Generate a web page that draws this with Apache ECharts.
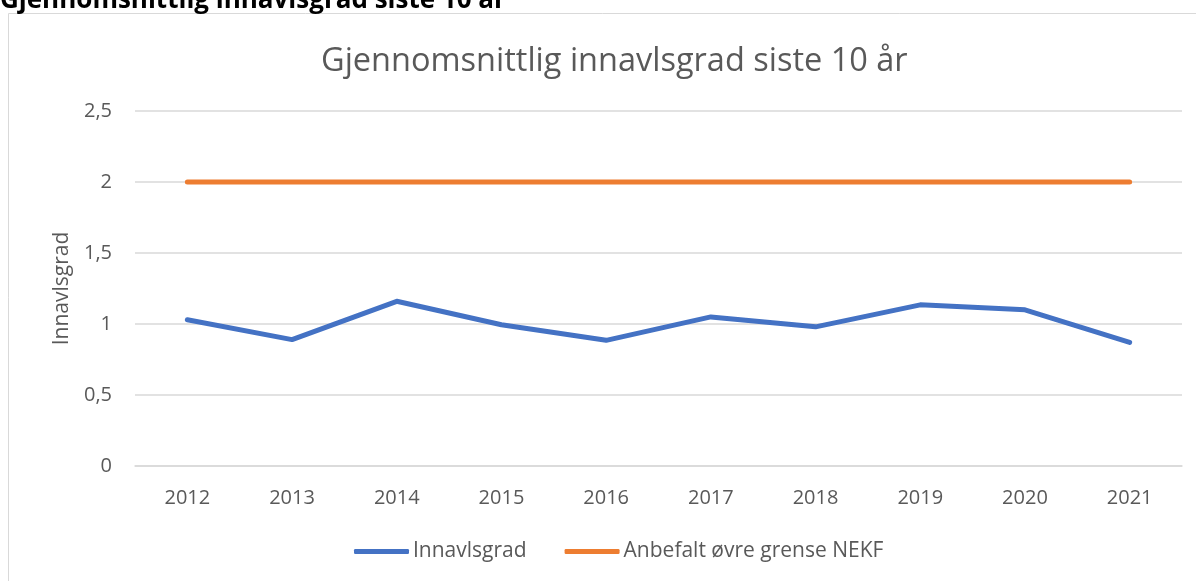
<!DOCTYPE html>
<html>
<head>
<meta charset="utf-8">
<script src="https://cdn.jsdelivr.net/npm/echarts@6/dist/echarts.min.js"></script>
<style>
  html, body { margin: 0; padding: 0; background: #fff; }
  #chart { width: 1196px; height: 581px; }
</style>
</head>
<body>
<div id="chart"></div>
<script>
const years = ['2012', '2013', '2014', '2015', '2016', '2017', '2018', '2019', '2020', '2021']
const innavlsgrad = [1.03, 0.89, 1.16, 0.995, 0.885, 1.05, 0.98, 1.135, 1.10, 0.87]
const grense = [2, 2, 2, 2, 2, 2, 2, 2, 2, 2]

const textColor = '#595959'
const font = '"Open Sans", "Noto Sans", sans-serif'

const chart = echarts.init(document.getElementById('chart'))
chart.setOption({
  animation: false,
  textStyle: { fontFamily: font },
  title: {
    text: 'Gjennomsnittlig innavlsgrad siste 10 år',
    left: 316,
    top: 40,
    textStyle: { color: textColor, fontSize: 32.5, fontWeight: 'normal', fontFamily: font }
  },
  graphic: [
    {
      type: 'rect',
      shape: { x: 8.5, y: 13.5, width: 1300, height: 700 },
      style: { fill: null, stroke: '#D9D9D9', lineWidth: 1 },
      silent: true
    },
    {
      type: 'text',
      x: 0,
      y: -12,
      style: {
        text: 'Gjennomsnittlig innavlsgrad siste 10 år',
        fill: '#000',
        font: 'bold 26px "Open Sans", sans-serif'
      }
    }
  ],
  grid: { left: 135, right: 14, top: 111, bottom: 115 },
  legend: {
    bottom: 14,
    left: 349,
    itemWidth: 55,
    itemHeight: 5,
    itemGap: 38,
    icon: 'roundRect',
    textStyle: { color: textColor, fontSize: 21, padding: [0, 0, 0, -1] },
    data: ['Innavlsgrad', 'Anbefalt øvre grense NEKF']
  },
  xAxis: {
    type: 'category',
    data: years,
    boundaryGap: true,
    axisLine: { lineStyle: { color: '#D9D9D9', width: 1.5 } },
    axisTick: { show: false },
    axisLabel: { color: textColor, fontSize: 20, margin: 22 }
  },
  yAxis: {
    type: 'value',
    min: 0,
    max: 2.5,
    interval: 0.5,
    name: 'Innavlsgrad',
    nameLocation: 'middle',
    nameGap: 62,
    nameTextStyle: { color: textColor, fontSize: 21 },
    axisLine: { show: false },
    axisTick: { show: false },
    splitLine: { lineStyle: { color: '#D9D9D9', width: 1.5 } },
    axisLabel: {
      color: textColor,
      fontSize: 20,
      margin: 23,
      formatter: v => String(v).replace('.', ',')
    }
  },
  series: [
    {
      name: 'Innavlsgrad',
      type: 'line',
      data: innavlsgrad,
      symbol: 'none',
      color: '#4472C4',
      lineStyle: { color: '#4472C4', width: 5, cap: 'round', join: 'round' }
    },
    {
      name: 'Anbefalt øvre grense NEKF',
      type: 'line',
      data: grense,
      symbol: 'none',
      color: '#ED7D31',
      lineStyle: { color: '#ED7D31', width: 5, cap: 'round' }
    }
  ]
})
</script>
</body>
</html>
